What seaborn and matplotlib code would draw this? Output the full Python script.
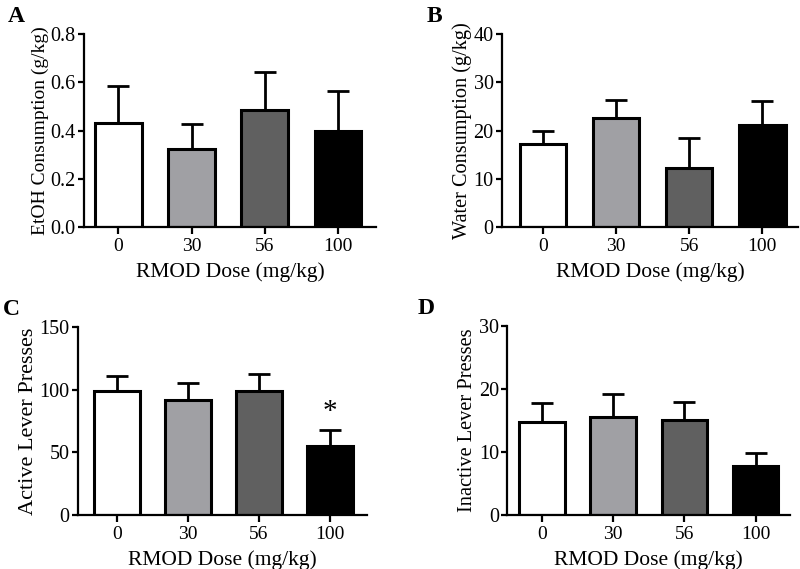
import pandas as pd
import seaborn as sns
import matplotlib.pyplot as plt

sns.set_style('ticks')
plt.rcParams['font.family'] = ['Liberation Serif', 'DejaVu Serif']
plt.rcParams['text.color'] = 'black'
plt.rcParams['axes.labelcolor'] = 'black'
plt.rcParams['xtick.color'] = 'black'
plt.rcParams['ytick.color'] = 'black'
plt.rcParams['axes.edgecolor'] = 'black'
plt.rc('xtick', labelsize=14)
plt.rc('ytick', labelsize=14.5)

doses = ['0', '30', '56', '100']
bar_colors = ['#ffffff', '#a0a0a4', '#606060', '#000000']

etoh_mean = [0.433, 0.323, 0.486, 0.399]
etoh_sem = [0.153, 0.105, 0.158, 0.165]

water_mean = [17.3, 22.7, 12.2, 21.1]
water_sem = [2.6, 3.6, 6.3, 5.0]

active_mean = [98.8, 91.6, 98.8, 55.0]
active_sem = [12.2, 13.6, 13.8, 13.0]

inactive_mean = [14.7, 15.5, 15.1, 7.7]
inactive_sem = [3.0, 3.7, 2.8, 2.2]

# letter, means, sems, ylabel, ylabel size, ylim, yticks, fmt, axes rect, xlim, letter x offset
panels = [
    ('A', etoh_mean, etoh_sem, 'EtOH Consumption (g/kg)', 14, (0, 0.8), [0.0, 0.2, 0.4, 0.6, 0.8], '{:.1f}',
     [0.105, 0.601, 0.365, 0.339], (-0.47, 3.52), 0.095),
    ('B', water_mean, water_sem, 'Water Consumption (g/kg)', 14.6, (0, 40), [0, 10, 20, 30, 40], '{:.0f}',
     [0.6275, 0.601, 0.37, 0.339], (-0.56, 3.49), 0.094),
    ('C', active_mean, active_sem, 'Active Lever Presses', 16, (0, 150), [0, 50, 100, 150], '{:.0f}',
     [0.0975, 0.095, 0.361, 0.330], (-0.55, 3.52), 0.094),
    ('D', inactive_mean, inactive_sem, 'Inactive Lever Presses', 14.7, (0, 30), [0, 10, 20, 30], '{:.0f}',
     [0.634, 0.095, 0.354, 0.332], (-0.49, 3.49), 0.112),
]

fig = plt.figure(figsize=(8, 5.69), dpi=100)

for letter, means, sems, ylab, ysize, ylim, yticks, fmt, pos, xlim, dx in panels:
    ax = fig.add_axes(pos)
    df = pd.DataFrame({'Dose': doses, 'Value': means})
    ax.errorbar(range(len(doses)), means, yerr=[[0] * len(sems), sems], fmt='none',
                ecolor='black', elinewidth=2, capsize=8, capthick=2, zorder=1)
    sns.barplot(data=df, x='Dose', y='Value', hue='Dose', palette=bar_colors,
                order=doses, errorbar=None, width=0.64, edgecolor='black',
                linewidth=2.2, legend=False, ax=ax, zorder=2)
    ax.set_ylim(*ylim)
    ax.set_yticks(yticks)
    ax.set_yticklabels([fmt.format(v) for v in yticks])
    ax.set_xlim(*xlim)
    ax.set_ylabel(ylab, fontsize=ysize, labelpad=1)
    ax.set_xlabel('RMOD Dose (mg/kg)', fontsize=15.5, labelpad=5)
    sns.despine(ax=ax)
    for s in ['left', 'bottom']:
        ax.spines[s].set_linewidth(1.6)
    ax.tick_params(axis='y', width=1.6, length=4.5, color='black', pad=1.5)
    ax.tick_params(axis='x', width=1.6, length=5, color='black', pad=3)
    fig.text(pos[0] - dx, pos[1] + pos[3] + 0.012, letter, fontsize=17,
             fontweight='bold', va='bottom')
    if letter == 'C':
        ax.text(3, means[3] + sems[3] + 4, '*', ha='center', va='bottom', fontsize=21)

fig.savefig('out.png', dpi=100)
